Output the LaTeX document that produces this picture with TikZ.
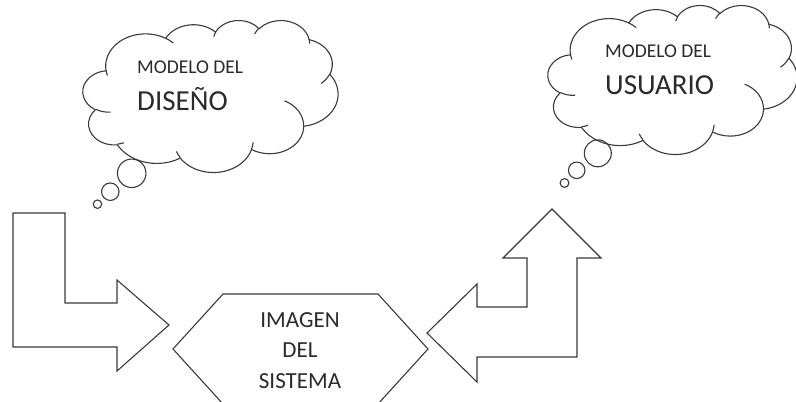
\documentclass[tikz,border=0pt]{standalone}
\usepackage{fontspec}
\setmainfont{Carlito}
\definecolor{ink}{HTML}{3A3A3A}
\definecolor{txt}{HTML}{2A2A2A}
\tikzset{
  outline/.style={draw=ink, line width=1.1pt, fill=white, line join=miter},
  cloudline/.style={draw=ink, line width=1.1pt},
  bubble/.style={circle, draw=ink, line width=1.1pt, inner sep=0pt},
  small/.style={font=\fontsize{19.5}{21}\selectfont, text=txt, inner sep=0pt},
  big/.style={font=\fontsize{29}{31}\selectfont, text=txt, inner sep=0pt},
  mid/.style={font=\fontsize{23}{25}\selectfont, text=txt, inner sep=0pt},
}
% Elliptic arc given by radii, start angle and sweep (true angles, y down):
% store the parametric start/end angles for later use in a path.
\newcommand\prepArc[5]{%
  \pgfmathsetmacro\tmpS{atan2((#2)*sin(#4),(#3)*cos(#4))}%
  \pgfmathsetmacro\tmpE{atan2((#2)*sin((#4)+(#5)),(#3)*cos((#4)+(#5)))}%
  \pgfmathsetmacro\tmpE{\tmpS+mod(\tmpE-\tmpS+720,360)}%
  \expandafter\xdef\csname arcS#1\endcsname{\tmpS}%
  \expandafter\xdef\csname arcE#1\endcsname{\tmpE}%
  \expandafter\xdef\csname arcX#1\endcsname{#2}%
  \expandafter\xdef\csname arcY#1\endcsname{#3}%
}
\newcommand\carc[1]{arc[start angle=\csname arcS#1\endcsname,
  end angle=\csname arcE#1\endcsname,
  x radius=\csname arcX#1\endcsname, y radius=\csname arcY#1\endcsname]}
% outline of the cloud, in a 432 x 432 box
\prepArc{A}{67.53}{91.90}{-190.4875}{123.7805}
\prepArc{B}{53.33}{72.67}{-144.1024}{89.9452}
\prepArc{C}{43.65}{59.45}{-145.8079}{99.7230}
\prepArc{D}{48.57}{65.95}{-130.9861}{117.2417}
\prepArc{E}{53.33}{72.73}{-78.7089}{109.0269}
\prepArc{F}{67.75}{92.20}{-46.2673}{130.2690}
\prepArc{G}{57.85}{78.67}{0.6250}{114.0333}
\prepArc{H}{67.52}{92.15}{22.4516}{115.1726}
\prepArc{I}{77.20}{105.43}{66.2426}{75.7110}
\prepArc{J}{43.60}{59.52}{-274.9421}{146.7356}
\prepArc{K}{43.45}{59.45}{-246.8285}{152.5189}
% short inner strokes where the puffs meet
\prepArc{a}{43.45}{59.45}{86.7420}{26.4295}
\prepArc{b}{43.60}{59.52}{73.6105}{11.4475}
\prepArc{c}{67.52}{92.15}{137.6242}{14.0811}
\prepArc{d}{67.52}{92.15}{6.4533}{15.9984}
\prepArc{e}{57.85}{78.67}{-70.2924}{70.9174}
\prepArc{f}{53.33}{72.73}{30.3180}{27.7515}
\prepArc{g}{48.57}{65.95}{-13.7443}{14.8589}
\prepArc{h}{48.57}{65.95}{-149.1815}{18.1954}
\prepArc{i}{43.65}{59.45}{-163.4943}{17.6864}
\prepArc{j}{67.53}{91.90}{-66.7070}{12.3194}
\prepArc{k}{67.53}{91.90}{157.6544}{11.8582}
\newcommand\cloudpath{%
  \path[outline] (39.00,143.70) \carc{A} \carc{B} \carc{C} \carc{D} \carc{E}
    \carc{F} \carc{G} \carc{H} \carc{I} \carc{J} \carc{K} -- cycle;
  \path[cloudline] (46.93,261.77) \carc{a} (69.28,348.99) \carc{b}
    (164.78,390.90) \carc{c} (288.27,347.51) \carc{d}
    (341.29,229.54) \carc{e} (417.98,153.54) \carc{f}
    (383.24,54.26) \carc{g} (290.78,39.52) \carc{h}
    (221.41,47.20) \carc{i} (140.00,51.92) \carc{j}
    (41.27,157.89) \carc{k};
}
\begin{document}
\begin{tikzpicture}[x=1pt,y=-1pt]
\useasboundingbox (0,0) rectangle (796,402);
\clip (0,0) rectangle (796,402);

% design model: cloud, text and thought bubbles
\begin{scope}[shift={(83,20)}, x=255/432*1pt, y=-152/432*1pt]
  \cloudpath
\end{scope}
\node[small, anchor=base west] (dtop) at (137,73) {MODELO DEL};
\node[big, anchor=base west] (dbot) at (137,110) {DISEÑO};
\node[bubble, minimum size=28.5pt] (d1) at (131.7,173.3) {};
\node[bubble, minimum size=17.5pt] (d2) at (110.3,191.7) {};
\node[bubble, minimum size=8.5pt] (d3) at (97.5,204.2) {};

% user model: cloud, text and thought bubbles
\begin{scope}[shift={(548,5)}, x=249/432*1pt, y=-149/432*1pt]
  \cloudpath
\end{scope}
\node[small, anchor=base west] (utop) at (605,57) {MODELO DEL};
\node[big, anchor=base west] (ubot) at (605,94) {USUARIO};
\node[bubble, minimum size=27pt] (u1) at (597.8,153.3) {};
\node[bubble, minimum size=16.5pt] (u2) at (576.7,170.3) {};
\node[bubble, minimum size=8.8pt] (u3) at (564.5,183) {};

% bent arrow into the system image
\draw[outline] (13,213) -- (65,213) -- (65,303) -- (117,303) -- (117,280)
  -- (169,325) -- (117,371) -- (117,347) -- (13,347) -- cycle;

% system image hexagon
\draw[outline] (223,294) -- (378,294) -- (428,349) -- (378,404) -- (223,404)
  -- (173,349) -- cycle;
\node[mid, anchor=base] (s1) at (300,327) {IMAGEN};
\node[mid, anchor=base] (s2) at (300,357) {DEL};
\node[mid, anchor=base] (s3) at (300,388) {SISTEMA};

% bent arrow out of the system image
\draw[outline] (427,333) -- (477,284) -- (477,307) -- (527,307) -- (527,258)
  -- (503,258) -- (552,209) -- (601,258) -- (577,258) -- (577,357)
  -- (477,357) -- (477,382) -- cycle;
\end{tikzpicture}
\end{document}
